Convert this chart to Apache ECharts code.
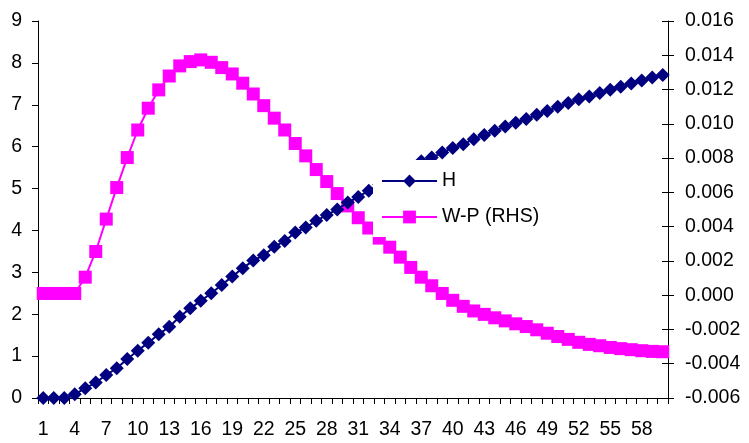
<!DOCTYPE html>
<html>
<head>
<meta charset="utf-8">
<script src="https://cdn.jsdelivr.net/npm/echarts@6/dist/echarts.min.js"></script>
<style>
html,body{margin:0;padding:0;background:#fff;}
#chart{width:749px;height:443px;}
</style>
</head>
<body>
<div id="chart"></div>
<script>
const categories = ['1','2','3','4','5','6','7','8','9','10','11','12','13','14','15','16','17','18','19','20',
  '21','22','23','24','25','26','27','28','29','30','31','32','33','34','35','36','37','38','39','40',
  '41','42','43','44','45','46','47','48','49','50','51','52','53','54','55','56','57','58','59','60'];

const hValues = [0, 0, 0, 0.09, 0.23, 0.37, 0.55, 0.71, 0.93, 1.13,
  1.32, 1.52, 1.70, 1.94, 2.14, 2.32, 2.50, 2.70, 2.90, 3.10,
  3.28, 3.41, 3.61, 3.75, 3.95, 4.07, 4.23, 4.37, 4.50, 4.67,
  4.80, 4.95, 5.09, 5.23, 5.37, 5.51, 5.65, 5.74, 5.86, 5.97,
  6.06, 6.18, 6.28, 6.38, 6.48, 6.57, 6.66, 6.76, 6.85, 6.95,
  7.04, 7.13, 7.20, 7.28, 7.36, 7.43, 7.51, 7.58, 7.65, 7.71];

const wpValues = [0.00010, 0.00010, 0.00010, 0.00010, 0.00105, 0.00255, 0.00444, 0.00628, 0.00803, 0.00964,
  0.01091, 0.01198, 0.01279, 0.01338, 0.01363, 0.01373, 0.01359, 0.01328, 0.01291, 0.01237,
  0.01174, 0.01106, 0.01033, 0.00964, 0.00885, 0.00813, 0.00733, 0.00663, 0.00593, 0.00521,
  0.00452, 0.00392, 0.00333, 0.00280, 0.00222, 0.00162, 0.00105, 0.00055, 0.00010, -0.00030,
  -0.00065, -0.00092, -0.00112, -0.00132, -0.00150, -0.00167, -0.00183, -0.00202, -0.00222, -0.00241,
  -0.00258, -0.00275, -0.00287, -0.00295, -0.00305, -0.00312, -0.00318, -0.00324, -0.00328, -0.00330];

const seriesNames = ['H', 'W-P (RHS)'];

const FONT = '"Liberation Sans", Arial, Helvetica, sans-serif';
const chart = echarts.init(document.getElementById('chart'));
chart.setOption({
  animation: false,
  backgroundColor: '#ffffff',
  textStyle: { fontFamily: FONT, color: '#000' },
  grid: { left: 38, right: 81, top: 21, bottom: 45, containLabel: false },
  legend: {
    orient: 'vertical',
    left: 373,
    top: 160,
    data: seriesNames,
    itemWidth: 55,
    itemHeight: 16,
    itemGap: 16,
    padding: [11, 8, 10, 8],
    backgroundColor: '#ffffff',
    textStyle: { fontFamily: FONT, fontSize: 19.5, color: '#000', padding: [0, 0, 0, 0] }
  },
  xAxis: {
    type: 'category',
    data: categories,
    boundaryGap: true,
    axisLine: { lineStyle: { color: '#000', width: 1 } },
    axisTick: { show: true, interval: 0, length: 6, lineStyle: { color: '#000' } },
    axisLabel: { interval: 2, margin: 22, fontSize: 19.5, color: '#000', fontFamily: FONT },
    splitLine: { show: false }
  },
  yAxis: [
    {
      type: 'value', position: 'left', min: 0, max: 9, interval: 1,
      axisLine: { show: true, lineStyle: { color: '#000', width: 1 } },
      axisTick: { show: true, length: 6, lineStyle: { color: '#000' } },
      axisLabel: { margin: 16, fontSize: 19.5, color: '#000', fontFamily: FONT },
      splitLine: { show: false }
    },
    {
      type: 'value', position: 'right', min: -0.006, max: 0.016, interval: 0.002,
      axisLine: { show: true, lineStyle: { color: '#000', width: 1 } },
      axisTick: { show: true, length: 6, lineStyle: { color: '#000' } },
      axisLabel: { margin: 17, fontSize: 19.5, color: '#000', fontFamily: FONT,
        formatter: v => v.toFixed(3) },
      splitLine: { show: false }
    },
    {
      type: 'value', position: 'right', min: -0.006, max: 0.016, interval: 0.002,
      axisLine: { show: false },
      axisTick: { show: true, inside: true, length: 6, lineStyle: { color: '#000' } },
      axisLabel: { show: false },
      splitLine: { show: false }
    }
  ],
  series: [
    {
      name: seriesNames[0],
      type: 'line',
      yAxisIndex: 0,
      data: hValues,
      showAllSymbol: true,
      symbol: 'diamond',
      symbolSize: 14,
      color: '#000080',
      itemStyle: { color: '#000080' },
      lineStyle: { color: '#000080', width: 2 },
      z: 3
    },
    {
      name: seriesNames[1],
      type: 'line',
      yAxisIndex: 1,
      data: wpValues,
      showAllSymbol: true,
      symbol: 'rect',
      symbolSize: 13,
      color: '#FF00FF',
      itemStyle: { color: '#FF00FF' },
      lineStyle: { color: '#FF00FF', width: 2 },
      z: 2
    }
  ]
});
</script>
</body>
</html>
